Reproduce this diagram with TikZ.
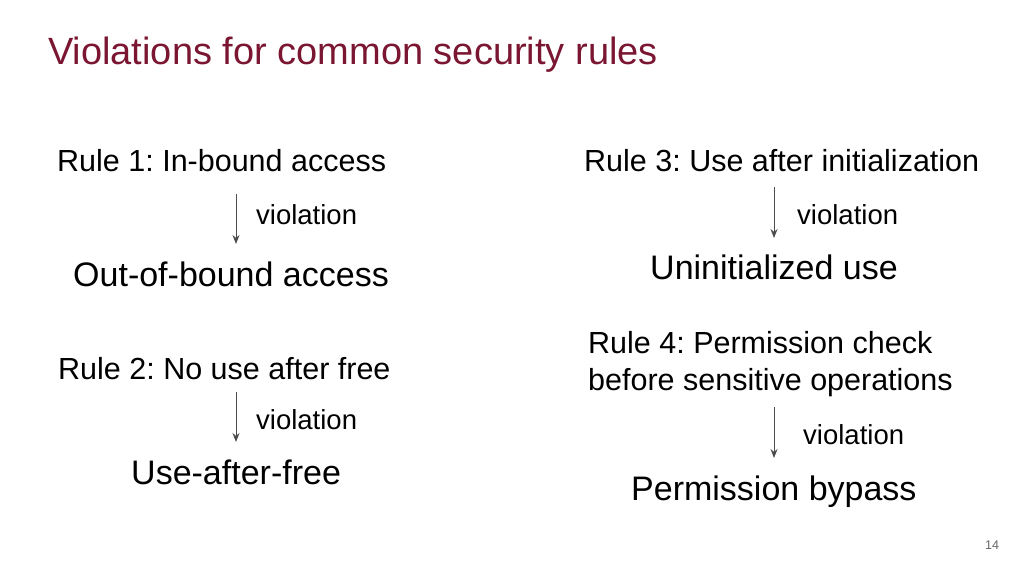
\documentclass[tikz,border=0pt]{standalone}
\usepackage{fontspec}
\setmainfont{Liberation Sans}
\usetikzlibrary{arrows.meta}
\definecolor{titlered}{HTML}{7A1631}
\frenchspacing
\begin{document}
\begin{tikzpicture}[x=1pt,y=-1pt,
  txt/.style={anchor=base west,inner sep=0pt,font=\fontsize{30.5}{36}\selectfont},
  big/.style={anchor=base west,inner sep=0pt,font=\fontsize{34}{40}\selectfont},
  vio/.style={anchor=base west,inner sep=0pt,font=\fontsize{27.5}{32}\selectfont},
  arr/.style={draw=black!70,line width=1pt,-{Stealth[length=9pt,width=7pt]}}]
\useasboundingbox (0,0) rectangle (1024,576);
\node[anchor=base west,inner sep=0pt,text=titlered,font=\fontsize{38}{44}\selectfont] (title) at (48,64) {Violations for common security rules};
\node[txt] (r1) at (57,171) {Rule 1: In-bound access};
\node[vio] (v1) at (256,224) {violation};
\node[big] (o1) at (73,286) {Out-of-bound access};
\node[txt] (r2) at (58,379) {Rule 2: No use after free};
\node[vio] (v2) at (256,429) {violation};
\node[big] (o2) at (131,484) {Use-after-free};
\node[txt] (r3) at (584,171) {Rule 3: Use after initialization};
\node[vio] (v3) at (797,224) {violation};
\node[big] (o3) at (650,279) {Uninitialized use};
\node[txt] (r4a) at (588,353) {Rule 4: Permission check};
\node[txt] (r4b) at (588,390) {before sensitive operations};
\node[vio] (v4) at (803,444) {violation};
\node[big] (o4) at (631,500) {Permission bypass};
\node[anchor=base west,inner sep=0pt,text=black!60,font=\fontsize{12.5}{15}\selectfont] (pg) at (985,549) {14};
\coordinate (a1s) at (236,194); \coordinate (a1e) at (236,244);
\coordinate (a2s) at (236,392); \coordinate (a2e) at (236,442);
\coordinate (a3s) at (774,187); \coordinate (a3e) at (774,238);
\coordinate (a4s) at (774,407); \coordinate (a4e) at (774,458);
\draw[arr] (a1s) -- (a1e);
\draw[arr] (a2s) -- (a2e);
\draw[arr] (a3s) -- (a3e);
\draw[arr] (a4s) -- (a4e);
\end{tikzpicture}
\end{document}
